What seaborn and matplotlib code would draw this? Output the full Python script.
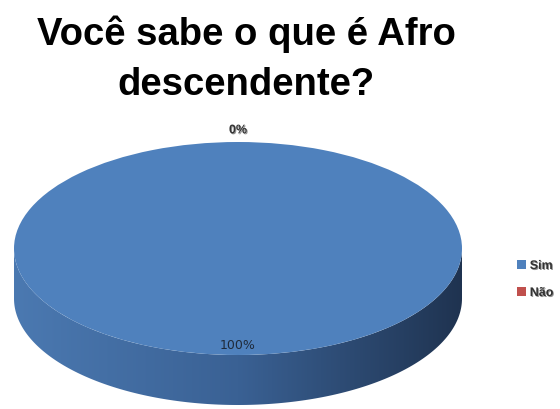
import numpy as np
import matplotlib
matplotlib.use("Agg")
import matplotlib.pyplot as plt
import matplotlib.patheffects as pe
from matplotlib.patches import Polygon
from matplotlib.colors import LinearSegmentedColormap
import seaborn as sns

# ---- data ----
categories = ["Sim", "Não"]
values = [100, 0]
colors = ["#4F81BD", "#C0504D"]
title_lines = ["Você sabe o que é Afro", "descendente?"]

sns.set_theme(style="white")
plt.rcParams["font.family"] = ["Liberation Sans", "DejaVu Sans"]

W, H = 560, 410
fig = plt.figure(figsize=(W / 100, H / 100), dpi=100)
fig.patch.set_facecolor("white")

# pie geometry in pixels
left_px, right_px = 14, 462
top_px, topbot_px = 143, 356
depth_px = 50
b_px = (topbot_px - top_px) / 2
depth = depth_px / b_px

ax = fig.add_axes([left_px / W, (H - topbot_px - depth_px) / H,
                   (right_px - left_px) / W, (topbot_px + depth_px - top_px) / H])

wedges, _ = ax.pie(values, colors=colors, startangle=90, counterclock=False,
                   radius=1, wedgeprops=dict(linewidth=0))
ax.set_aspect("auto")
ax.set_xlim(-1, 1)
ax.set_ylim(-1 - depth, 1)
ax.axis("off")

shadow = [pe.SimplePatchShadow(offset=(0.7, -0.7), shadow_rgbFace="#888888", alpha=0.9), pe.Normal()]

# side wall (3D extrusion) for the visible lower half of each wedge
side_cmap = LinearSegmentedColormap.from_list("side", ["#4B79B1", "#3A6194", "#1F3350"])
for w, c in zip(wedges, colors):
    t1, t2 = sorted([w.theta1, w.theta2])
    if t2 - t1 <= 0:
        continue
    ts = np.linspace(np.radians(t1), np.radians(t2), 400)
    ts = np.mod(ts, 2 * np.pi)
    ts = np.sort(ts[(ts >= np.pi) & (ts <= 2 * np.pi)])
    if ts.size < 2:
        continue
    xs, ys = np.cos(ts), np.sin(ts)
    verts = np.concatenate([np.column_stack([xs, ys]),
                            np.column_stack([xs[::-1], ys[::-1] - depth])])
    poly = Polygon(verts, closed=True, facecolor="none", edgecolor="none")
    ax.add_patch(poly)
    grad = np.linspace(0, 1, 256).reshape(1, -1)
    im = ax.imshow(grad, cmap=side_cmap, extent=[-1, 1, -1 - depth, 0],
                   aspect="auto", zorder=0.5)
    im.set_clip_path(poly)
for w in wedges:
    w.set_zorder(2)

# percentage labels
total = sum(values)
for w, v in zip(wedges, values):
    mid = np.radians((w.theta1 + w.theta2) / 2)
    frac = v / total
    pct = f"{frac * 100:.0f}%"
    if frac > 0.05:
        r = 0.9
        ax.text(r * np.cos(mid), r * np.sin(mid), pct, ha="center", va="center",
                fontsize=9, color="#1F2A3A", family=["DejaVu Sans"], zorder=5)
    else:
        r = 1.11
        ax.text(r * np.cos(mid), r * np.sin(mid), pct, ha="center", va="center",
                fontsize=9, color="#333333", fontweight="bold", zorder=5, clip_on=False,
                path_effects=shadow)

# legend
leg = fig.legend(wedges, categories, loc="center left",
                 bbox_to_anchor=(511 / W, 1 - 280.5 / H), frameon=False,
                 fontsize=9, handlelength=0.7, handleheight=0.7,
                 handletextpad=0.3, labelspacing=1.2, borderpad=0)
for t in leg.get_texts():
    t.set_fontweight("bold")
    t.set_color("#333333")
    t.set_path_effects(shadow)

for line, base in zip(title_lines, [45, 95]):
    fig.text(246 / W, 1 - base / H, line, ha="center", va="baseline", fontsize=27.5,
             fontweight="bold", color="black")

fig.savefig("out.png", dpi=100, facecolor="white")
